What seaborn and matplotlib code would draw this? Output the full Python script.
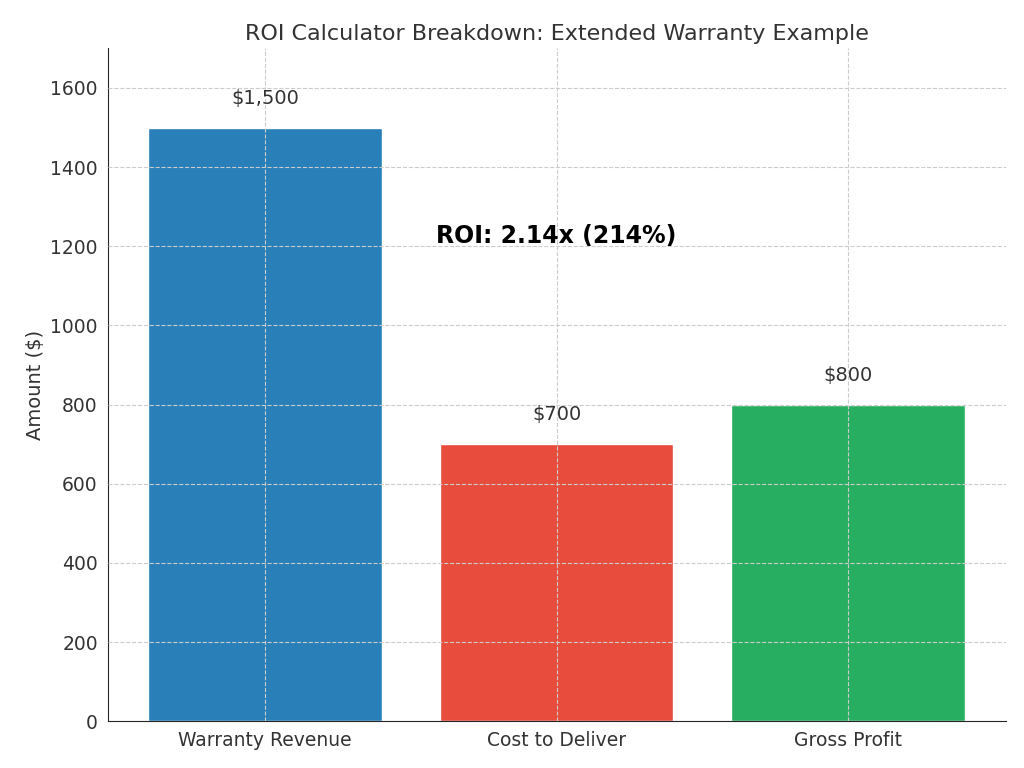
import matplotlib
matplotlib.use('Agg')
import matplotlib.pyplot as plt
import seaborn as sns
import pandas as pd

categories = ['Warranty Revenue', 'Cost to Deliver', 'Gross Profit']
amounts = [1500, 700, 800]
colors = ['#2980b9', '#e74c3c', '#27ae60']

sns.set_style('white')
plt.rcParams['font.family'] = ['DejaVu Sans']

df = pd.DataFrame({'Category': categories, 'Amount': amounts})

fig, ax = plt.subplots(figsize=(10.24, 7.68), dpi=100)
sns.barplot(data=df, x='Category', y='Amount', hue='Category', palette=colors,
            width=0.8, saturation=1, legend=False, ax=ax)

for i, v in enumerate(amounts):
    ax.text(i, v + 50, f'${v:,}', ha='center', va='bottom', fontsize=14, color='#333333')

ax.text(1, 1225, 'ROI: 2.14x (214%)', ha='center', va='center', fontsize=17,
        fontweight='bold', color='black')

ax.set_ylim(0, 1700)
ax.set_xlim(-0.54, 2.54)
ax.set_title('ROI Calculator Breakdown: Extended Warranty Example', fontsize=16, color='#333333')
ax.set_ylabel('Amount ($)', fontsize=14, color='#333333')
ax.set_xlabel('')
ax.tick_params(axis='both', labelsize=13.5, colors='#333333')
ax.set_axisbelow(False)
ax.grid(True, linestyle='--', color='#cccccc', linewidth=0.8)
sns.despine(ax=ax)

fig.subplots_adjust(left=0.105, right=0.982, top=0.937, bottom=0.061)
fig.savefig('out.png', dpi=100)
